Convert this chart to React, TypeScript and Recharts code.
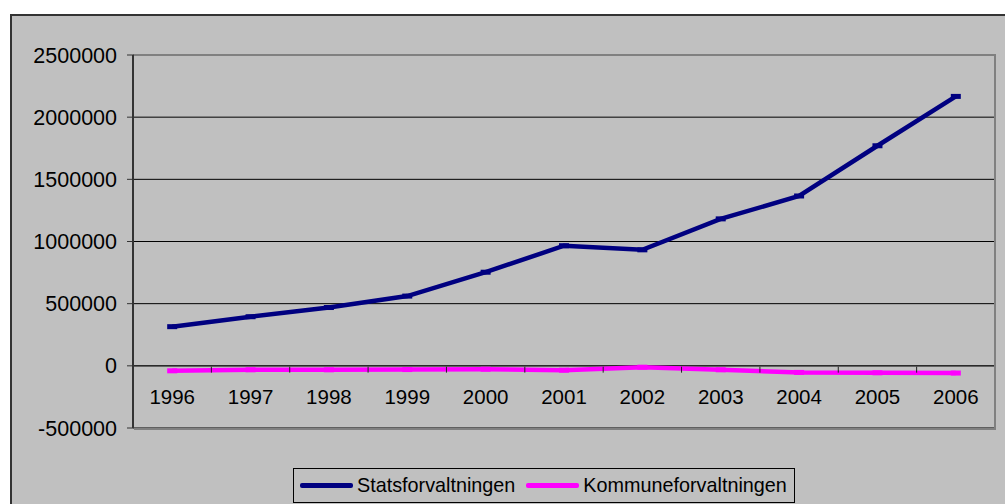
import React from "react";
import {
  LineChart,
  Line,
  XAxis,
  YAxis,
  CartesianGrid,
  ReferenceLine,
} from "recharts";

const years = ["1996", "1997", "1998", "1999", "2000", "2001", "2002", "2003", "2004", "2005", "2006"];
const statsforvaltningen = [315000, 395000, 469000, 561000, 753000, 966000, 933000, 1182000, 1366000, 1770000, 2167000];
const kommuneforvaltningen = [-40000, -32000, -32000, -30000, -27000, -35000, -11000, -32000, -53000, -56000, -58000];
const yTicks = [-500000, 0, 500000, 1000000, 1500000, 2000000, 2500000];

const seriesNames = ["Statsforvaltningen", "Kommuneforvaltningen"];
const seriesColors = ["#000080", "#FF00FF"];

const data = years.map((y, i) => ({
  year: y,
  stats: statsforvaltningen[i],
  kommune: kommuneforvaltningen[i],
}));

const W = 1005;
const H = 504;
const M = { top: 55, right: 10, bottom: 75, left: 10 };
const YAXIS_W = 123;
const PLOT_LEFT = M.left + YAXIS_W;
const PLOT_W = W - M.right - PLOT_LEFT;
const PLOT_H = H - M.top - M.bottom;
const Y_MIN = -500000;
const Y_MAX = 2500000;
const ZERO_Y = M.top + (PLOT_H * (Y_MAX - 0)) / (Y_MAX - Y_MIN);
const BAND = PLOT_W / years.length;
const FONT = "'Liberation Sans', Arial, sans-serif";

const YearTick = (props: any) => {
  const { x, payload } = props;
  return (
    <g>
      <line x1={x + BAND / 2} x2={x + BAND / 2} y1={ZERO_Y} y2={ZERO_Y + 6} stroke="#222" strokeWidth={1} />
      <text x={x} y={ZERO_Y + 37} textAnchor="middle" fontSize={20.5} fontFamily={FONT} fill="#000">
        {payload.value}
      </text>
    </g>
  );
};

const DashDot = (color: string) => (props: any) => {
  const { cx, cy, index } = props;
  if (cx == null || cy == null) return <g key={index} />;
  return <rect key={index} x={cx - 5} y={cy - 2.5} width={10} height={5} fill={color} />;
};

export default function App() {
  return (
    <div style={{ position: "absolute", left: 0, top: 0, width: W, height: H, background: "#fff", overflow: "hidden" }}>
      <div
        style={{
          position: "absolute",
          left: 10,
          top: 14,
          width: W,
          height: H,
          background: "#C0C0C0",
          borderLeft: "2px solid #333",
          borderTop: "2px solid #333",
        }}
      />
      <div style={{ position: "absolute", left: 0, top: 0 }}>
        <LineChart width={W} height={H} data={data} margin={M}>
          <CartesianGrid horizontal={true} vertical={false} stroke="#000" strokeWidth={1} />
          <XAxis
            dataKey="year"
            axisLine={false}
            tickLine={false}
            height={1}
            tick={<YearTick />}
            interval={0}
            padding={{ left: BAND / 2, right: BAND / 2 }}
          />
          <YAxis
            width={YAXIS_W}
            domain={[Y_MIN, Y_MAX]}
            ticks={yTicks}
            interval={0}
            axisLine={{ stroke: "#333", strokeWidth: 2 }}
            tickLine={{ stroke: "#333", strokeWidth: 1 }}
            tickSize={6}
            tickMargin={10}
            tick={{ fontSize: 21.5, fontFamily: FONT, fill: "#000" }}
          />
          <ReferenceLine y={0} stroke="#222" strokeWidth={1} />
          <Line
            dataKey="stats"
            name={seriesNames[0]}
            stroke={seriesColors[0]}
            strokeWidth={4.5}
            type="linear"
            dot={DashDot(seriesColors[0])}
            activeDot={false}
            isAnimationActive={false}
          />
          <Line
            dataKey="kommune"
            name={seriesNames[1]}
            stroke={seriesColors[1]}
            strokeWidth={4.5}
            type="linear"
            dot={DashDot(seriesColors[1])}
            activeDot={false}
            isAnimationActive={false}
          />
        </LineChart>
      </div>
      <div
        style={{
          position: "absolute",
          left: PLOT_LEFT + 1,
          top: M.top - 1,
          width: PLOT_W,
          height: PLOT_H + 2,
          boxSizing: "border-box",
          borderTop: "2px solid #808080",
          borderRight: "2px solid #808080",
          borderBottom: "2px solid #808080",
          pointerEvents: "none",
        }}
      />
      <div
        style={{
          position: "absolute",
          left: 293,
          top: 468,
          height: 33,
          border: "1px solid #000",
          background: "#C0C0C0",
          display: "flex",
          alignItems: "center",
          paddingLeft: 6,
          paddingRight: 7,
          fontFamily: FONT,
          fontSize: 19.8,
          color: "#000",
          boxSizing: "content-box",
        }}
      >
        {seriesNames.map((n, i) => (
          <div key={n} style={{ display: "flex", alignItems: "center", marginLeft: i === 0 ? 0 : 11 }}>
            <div style={{ width: 53, height: 5, background: seriesColors[i], borderRadius: 2 }} />
            <span style={{ marginLeft: 4, whiteSpace: "nowrap" }}>{n}</span>
          </div>
        ))}
      </div>
    </div>
  );
}
